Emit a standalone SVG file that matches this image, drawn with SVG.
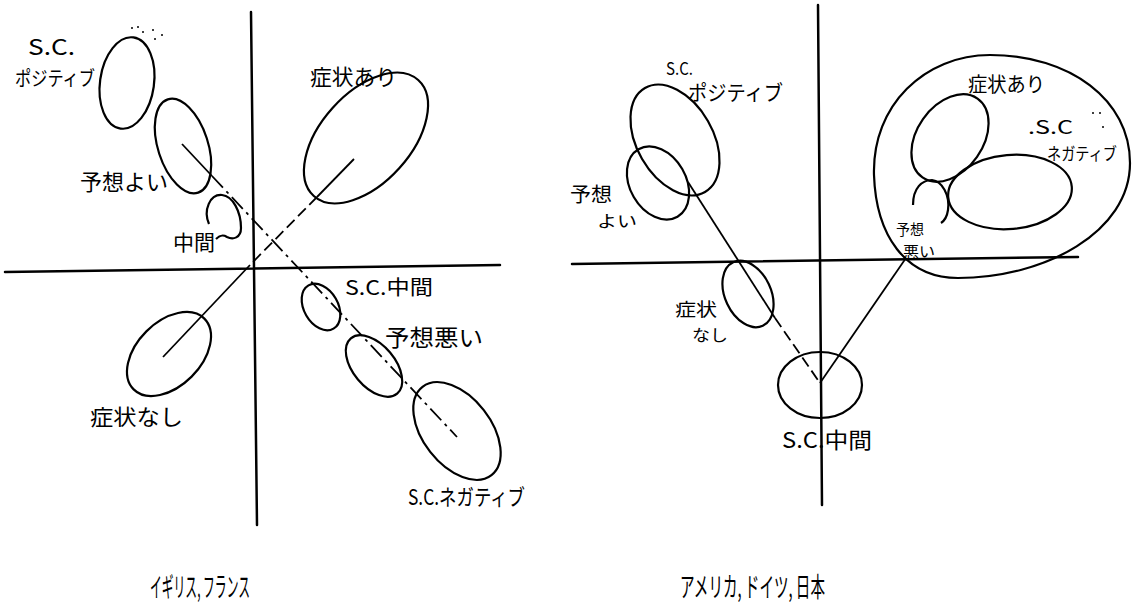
<svg xmlns="http://www.w3.org/2000/svg" width="1146" height="607" viewBox="0 0 1146 607">
<style>
.ax{stroke:#000;stroke-width:2.5;fill:none;stroke-linecap:round}
.el{stroke:#000;stroke-width:2.2;fill:none}
.ln{stroke:#000;stroke-width:1.8;fill:none}
.dd{stroke-dasharray:16 5 3 5}
.ds{stroke-dasharray:11 5}
.t{font-family:"Noto Sans CJK JP","Noto Sans",sans-serif;fill:#000}
.dot{fill:#000}
</style>
<rect width="1146" height="607" fill="#fff"/>
<g id="axes">
<line class="ax" x1="251" y1="12" x2="257" y2="525"/>
<line class="ax" x1="5" y1="272" x2="500" y2="265"/>
<line class="ax" x1="818" y1="5" x2="822" y2="505"/>
<line class="ax" x1="572" y1="264" x2="1078" y2="257"/>
</g>
<g id="connectors">
<line class="ln" x1="182" y1="144" x2="212" y2="176"/>
<line class="ln dd" x1="212" y1="176" x2="457" y2="437"/>
<line class="ln" x1="354" y1="159" x2="317" y2="197"/>
<line class="ln ds" x1="317" y1="197" x2="250" y2="265"/>
<line class="ln" x1="250" y1="265" x2="163" y2="357"/>
<line class="ln" x1="688" y1="182" x2="775" y2="318"/>
<line class="ln ds" x1="775" y1="318" x2="820" y2="383"/>
<line class="ln" x1="820" y1="383" x2="906" y2="258"/>
</g>
<g id="L-sc-positive">
<ellipse class="el" cx="127" cy="83" rx="27" ry="46" transform="rotate(8 127 83)"/>
<text class="t" x="28" y="55" font-size="22" textLength="47" lengthAdjust="spacingAndGlyphs">S.C.</text>
<text class="t" x="15" y="86" font-size="20" textLength="80" lengthAdjust="spacingAndGlyphs">ポジティブ</text>
<circle class="dot" cx="132" cy="28" r="1"/><circle class="dot" cx="138" cy="27" r="1"/><circle class="dot" cx="143" cy="32" r="1"/><circle class="dot" cx="153" cy="30" r="1"/><circle class="dot" cx="162" cy="35" r="1"/><circle class="dot" cx="155" cy="39" r="1"/>
</g>
<g id="L-prognosis-good">
<ellipse class="el" cx="183" cy="146" rx="49" ry="25" transform="rotate(72 183 146)"/>
<text class="t" x="80" y="190" font-size="22" textLength="88" lengthAdjust="spacingAndGlyphs">予想よい</text>
</g>
<g id="L-middle">
<path class="el" d="M 209 224 C 203 210, 210 194, 222 195 C 233 196, 241 212, 241 228 C 241 238, 233 240, 227 237 C 222 234, 219 236, 216 239"/>
<text class="t" x="173" y="250" font-size="21" textLength="42" lengthAdjust="spacingAndGlyphs">中間</text>
</g>
<g id="L-symptom-yes">
<ellipse class="el" cx="366" cy="138" rx="78" ry="45" transform="rotate(-48 366 138)"/>
<text class="t" x="310" y="85" font-size="22" textLength="87" lengthAdjust="spacingAndGlyphs">症状あり</text>
</g>
<g id="L-symptom-no">
<ellipse class="el" cx="169" cy="354" rx="50" ry="32" transform="rotate(-45 169 354)"/>
<text class="t" x="90" y="425" font-size="22" textLength="93" lengthAdjust="spacingAndGlyphs">症状なし</text>
</g>
<g id="L-sc-middle">
<ellipse class="el" cx="321" cy="307" rx="25" ry="17" transform="rotate(60 321 307)"/>
<text class="t" x="345" y="295" font-size="20" textLength="88" lengthAdjust="spacingAndGlyphs">S.C.中間</text>
</g>
<g id="L-prognosis-bad">
<ellipse class="el" cx="374" cy="366" rx="36" ry="21" transform="rotate(50 374 366)"/>
<text class="t" x="385" y="346" font-size="23" textLength="98" lengthAdjust="spacingAndGlyphs">予想悪い</text>
</g>
<g id="L-sc-negative">
<ellipse class="el" cx="457" cy="431" rx="56" ry="34" transform="rotate(52 457 431)"/>
<text class="t" x="408" y="505" font-size="22" textLength="117" lengthAdjust="spacingAndGlyphs">S.C.ネガティブ</text>
</g>
<g id="R-sc-positive">
<ellipse class="el" cx="675" cy="140" rx="60" ry="38" transform="rotate(60 675 140)"/>
<text class="t" x="666" y="75" font-size="17" textLength="27" lengthAdjust="spacingAndGlyphs">S.C.</text>
<text class="t" x="688" y="100" font-size="21" textLength="95" lengthAdjust="spacingAndGlyphs">ポジティブ</text>
</g>
<g id="R-prognosis-good">
<ellipse class="el" cx="658" cy="183" rx="39" ry="28" transform="rotate(60 658 183)"/>
<text class="t" x="570" y="202" font-size="20" textLength="42" lengthAdjust="spacingAndGlyphs">予想</text>
<text class="t" x="597" y="227" font-size="16" textLength="40" lengthAdjust="spacingAndGlyphs">よい</text>
</g>
<g id="R-symptom-no">
<ellipse class="el" cx="748" cy="294" rx="35" ry="23" transform="rotate(65 748 294)"/>
<text class="t" x="675" y="316" font-size="18" textLength="42" lengthAdjust="spacingAndGlyphs">症状</text>
<text class="t" x="692" y="341" font-size="16" textLength="36" lengthAdjust="spacingAndGlyphs">なし</text>
</g>
<g id="R-sc-middle">
<ellipse class="el" cx="820" cy="385" rx="42" ry="33"/>
<text class="t" x="782" y="448" font-size="22" textLength="90" lengthAdjust="spacingAndGlyphs">S.C.中間</text>
</g>
<g id="R-outer">
<path class="el" d="M 874 175 C 872 105, 925 55, 990 55 C 1070 55, 1130 100, 1130 163 C 1130 232, 1045 278, 958 278 C 905 278, 876 235, 874 175 Z"/>
</g>
<g id="R-symptom-yes">
<ellipse class="el" cx="950" cy="138" rx="48" ry="33" transform="rotate(-55 950 138)"/>
<text class="t" x="968" y="92" font-size="20" textLength="77" lengthAdjust="spacingAndGlyphs">症状あり</text>
</g>
<g id="R-sc-negative">
<ellipse class="el" cx="1010" cy="192" rx="62" ry="37" transform="rotate(-5 1010 192)"/>
<text class="t" x="1028" y="134" font-size="18" textLength="45" lengthAdjust="spacingAndGlyphs">.S.C</text>
<text class="t" x="1047" y="160" font-size="17" textLength="70" lengthAdjust="spacingAndGlyphs">ネガティブ</text>
<circle class="dot" cx="1093" cy="113" r="1"/><circle class="dot" cx="1100" cy="113" r="1"/><circle class="dot" cx="1103" cy="127" r="1"/>
</g>
<g id="R-prognosis-bad">
<path class="el" d="M 913 205 C 913 188, 922 180, 932 180 C 942 181, 950 195, 948 210 C 947 217, 944 221, 941 223"/>
<text class="t" x="896" y="235" font-size="14.5" textLength="28" lengthAdjust="spacingAndGlyphs">予想</text>
<text class="t" x="903" y="257" font-size="14.5" textLength="32" lengthAdjust="spacingAndGlyphs">悪い</text>
</g>
<g id="captions">
<text class="t" x="150" y="597" font-size="27" textLength="100" lengthAdjust="spacingAndGlyphs">イギリス, フランス</text>
<text class="t" x="680" y="597" font-size="27" textLength="145" lengthAdjust="spacingAndGlyphs">アメリカ, ドイツ, 日本</text>
</g>
</svg>
